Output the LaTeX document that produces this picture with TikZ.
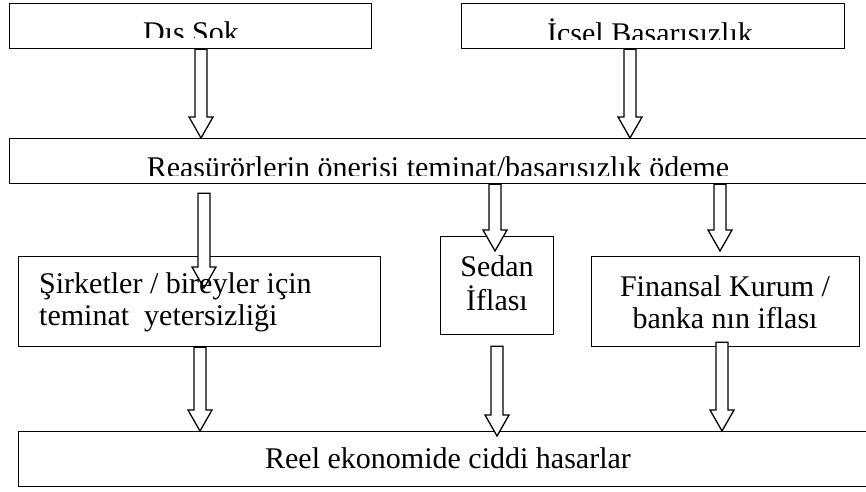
\documentclass[tikz,border=0pt]{standalone}
\usepackage{fontspec}
\setmainfont{Liberation Serif}
\usetikzlibrary{calc}

\begin{document}
\begin{tikzpicture}[x=1pt,y=-1pt]
    \tikzset{%
      box/.style={draw, line width=1.3pt, inner sep=0pt, anchor=north west},
      txt/.style={inner sep=0pt, font=\fontsize{30}{34}\selectfont},
      blockarr/.style={draw, line width=1.3pt, fill=white, to path={
          let \p1=(\tikztostart), \p2=(\tikztotarget) in
          (\x1-6pt,\y1) -- (\x1-6pt,\y2+21pt) -- (\x1-12pt,\y2+21pt)
          -- (\x1,\y2) -- (\x1+12pt,\y2+21pt) -- (\x1+6pt,\y2+21pt)
          -- (\x1+6pt,\y1) -- cycle}},
    }
    \useasboundingbox (0,0) rectangle (866,491);

    % boxes
    \node[box, minimum width=362pt, minimum height=45pt] (dis) at (9,3) {};
    \node[box, minimum width=383pt, minimum height=45pt] (icsel) at (461,3) {};
    \node[box, minimum width=870pt, minimum height=45pt] (reas) at (9,138) {};
    \node[box, minimum width=362pt, minimum height=90pt] (sirket) at (18,256) {};
    \node[box, minimum width=113pt, minimum height=98pt] (sedan) at (440,236) {};
    \node[box, minimum width=268pt, minimum height=90pt] (finans) at (591,256) {};
    \node[box, line width=1pt, minimum width=860pt, minimum height=55pt] (reel) at (18,431) {};

    % arrows
    \draw[blockarr] (dis.south -| 201,0) to (reas.north -| 201,0);
    \draw[blockarr] (icsel.south -| 630,0) to (reas.north -| 630,0);
    \draw[blockarr] ([yshift=-9pt]reas.south -| 204,0) to ([yshift=-32pt]sirket.north -| 204,0);
    \draw[blockarr] (reas.south -| 495,0) to ([yshift=-15pt]sedan.north -| 495,0);
    \draw[blockarr] (reas.south -| 720,0) to ([yshift=5pt]finans.north -| 720,0);
    \draw[blockarr] (sirket.south -| 200,0) to (reel.north -| 200,0);
    \draw[blockarr] ([yshift=-11pt]sedan.south -| 497,0) to ([yshift=-5pt]reel.north -| 497,0);
    \draw[blockarr] ([yshift=5pt]finans.south -| 722,0) to (reel.north -| 722,0);

    % texts (top ones cut off at the bottom)
    \begin{scope}
      \clip (9,3) rectangle (371,37);
      \node[txt, anchor=base] (disT) at (191,42) {Dıs Sok};
    \end{scope}
    \begin{scope}
      \clip (461,3) rectangle (844,39);
      \node[txt, anchor=base] (icselT) at (650,43) {İcsel Basarısızlık};
    \end{scope}
    \begin{scope}
      \clip (9,138) rectangle (866,175);
      \node[txt, anchor=base] (reasT) at (438,177) {Reasürörlerin önerisi teminat/basarısızlık ödeme};
    \end{scope}
    \node[txt, font=\fontsize{30}{32}\selectfont, align=left, anchor=north west] (sirketT) at (39,272)
      {Şirketler / bireyler için\\teminat\ \ yetersizliği};
    \node[txt, align=center, anchor=north] (sedanT) at (497,255) {Sedan\\İflası};
    \node[txt, font=\fontsize{30}{32}\selectfont, align=center, anchor=north] (finansT) at (725,275)
      {Finansal Kurum /\\banka nın iflası};
    \node[txt, anchor=base] (reelT) at (448,468) {Reel ekonomide ciddi hasarlar};
\end{tikzpicture}
\end{document}
